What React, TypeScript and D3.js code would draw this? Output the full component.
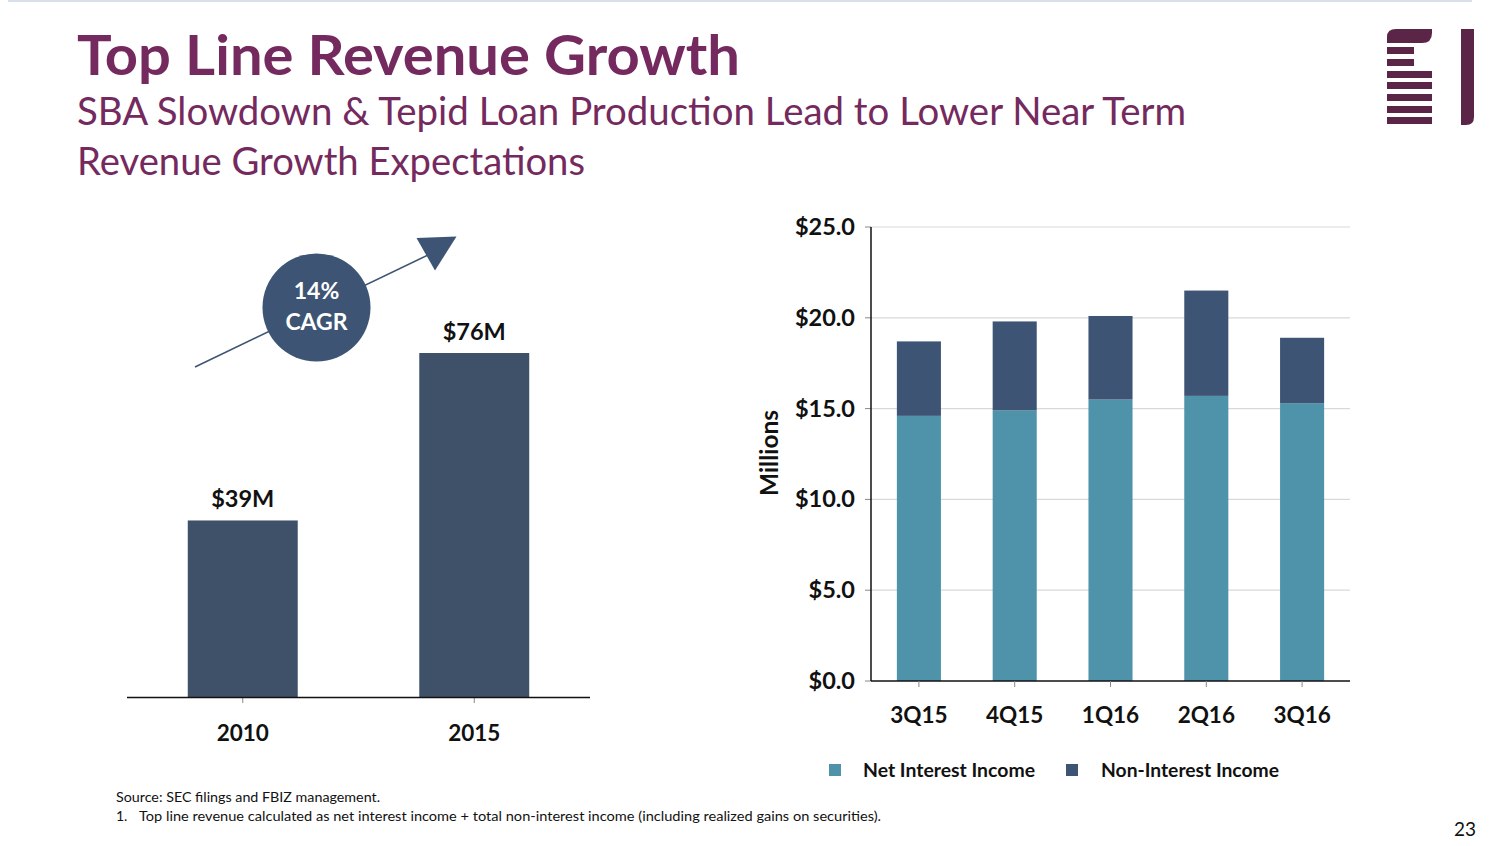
import React from "react";
import * as d3 from "d3";

const quarters = ["3Q15", "4Q15", "1Q16", "2Q16", "3Q16"];
const netInterestIncome = [14.6, 14.9, 15.5, 15.7, 15.3];
const nonInterestIncome = [4.1, 4.9, 4.6, 5.8, 3.6];
const yTicks = [0, 5, 10, 15, 20, 25];

const years = ["2010", "2015"];
const revenue = [39, 76];
const revenueLabels = ["$39M", "$76M"];

const seriesNames = ["Net Interest Income", "Non-Interest Income"];

const PURPLE = "#742a5e";
const LOGO = "#5a2547";
const TEAL = "#4f93ab";
const NAVY = "#3e5474";
const LEFTBAR = "#3f5168";
const FONT = "Lato, 'Open Sans', sans-serif";

export default function App() {
  const W = 1504, H = 846;

  // right chart
  const x = d3.scaleBand<string>().domain(quarters).range([871, 1350]).paddingInner(0.54).paddingOuter(0.27);
  const y = d3.scaleLinear().domain([0, 25]).range([681, 227]);
  const stackData = quarters.map((q, i) => ({ q, nii: netInterestIncome[i], non: nonInterestIncome[i] }));
  const stack = d3.stack<any>().keys(["nii", "non"])(stackData);
  const colors = [TEAL, NAVY];

  // left chart
  const lx = d3.scaleBand<string>().domain(years).range([127, 590]).paddingInner(0.525).paddingOuter(0.2625);
  const ly = d3.scaleLinear().domain([0, 80]).range([697, 697 - 80 * (344 / 76)]);

  const fmt = (v: number) => "$" + d3.format(".1f")(v);

  return (
    <svg width={W} height={H} style={{ position: "absolute", left: 0, top: 0, background: "#fff" }} fontFamily={FONT}>
      <rect x={0} y={0} width={W} height={H} fill="#fff" />
      <line x1={8} x2={1472} y1={1} y2={1} stroke="#cdd5e1" strokeWidth={1.5} />

      {/* titles */}
      <text x={77} y={75} fontSize={56} fontWeight={700} fill={PURPLE} textLength={663} lengthAdjust="spacingAndGlyphs">Top Line Revenue Growth</text>
      <text x={77} y={125} fontSize={38} fill={PURPLE} textLength={1109} lengthAdjust="spacingAndGlyphs">SBA Slowdown &amp; Tepid Loan Production Lead to Lower Near Term</text>
      <text x={77} y={175} fontSize={38} fill={PURPLE} textLength={508} lengthAdjust="spacingAndGlyphs">Revenue Growth Expectations</text>

      {/* logo */}
      <g fill={LOGO}>
        <path d="M1387,43 L1387,37 Q1387,29 1396,29 L1432,29 L1432,33 Q1432,43 1422,43 Z" />
        <rect x={1387} y={47} width={27} height={7} />
        <rect x={1387} y={59} width={27} height={7} />
        <rect x={1387} y={71} width={45} height={7} />
        <rect x={1387} y={82} width={45} height={7} />
        <rect x={1387} y={94} width={45} height={7} />
        <rect x={1387} y={106} width={45} height={7} />
        <rect x={1387} y={117} width={45} height={7} />
        <path d="M1461,29 L1474,29 L1474,117 Q1474,125 1466,125 L1461,125 Z" />
      </g>

      {/* left chart */}
      {years.map((yr, i) => (
        <g key={yr}>
          <rect x={lx(yr)!} y={ly(revenue[i])} width={lx.bandwidth()} height={ly(0) - ly(revenue[i])} fill={LEFTBAR} />
          <text x={lx(yr)! + lx.bandwidth() / 2} y={ly(revenue[i]) - 13} textAnchor="middle" fontSize={23.5} fontWeight={700} fill="#111">{revenueLabels[i]}</text>
          <line x1={lx(yr)! + lx.bandwidth() / 2} x2={lx(yr)! + lx.bandwidth() / 2} y1={ly(0)} y2={ly(0) + 6} stroke="#888" strokeWidth={1} />
          <text x={lx(yr)! + lx.bandwidth() / 2} y={ly(0) + 44} textAnchor="middle" fontSize={22.5} fontWeight={700} fill="#111">{yr}</text>
        </g>
      ))}
      <line x1={127} x2={590} y1={ly(0) + 0.5} y2={ly(0) + 0.5} stroke="#111" strokeWidth={1.5} />

      {/* arrow + CAGR bubble */}
      <line x1={195} y1={367} x2={430} y2={254} stroke="#3e5474" strokeWidth={1.5} />
      <path d="M416.5,238 L456.5,236.5 L435,270.5 Z" fill="#3e5474" />
      <circle cx={316.5} cy={307.5} r={54} fill="#3e5474" />
      <text x={316.5} y={299} textAnchor="middle" fontSize={23} fontWeight={700} fill="#fff">14%</text>
      <text x={316.5} y={330} textAnchor="middle" fontSize={23} fontWeight={700} fill="#fff">CAGR</text>

      {/* right chart grid */}
      {yTicks.map((t) => (
        <g key={t}>
          {t > 0 && <line x1={871} x2={1350} y1={y(t)} y2={y(t)} stroke="#d9d9d9" strokeWidth={1.2} />}
          <line x1={865} x2={871} y1={y(t)} y2={y(t)} stroke="#888" strokeWidth={1} />
          <text x={855} y={y(t) + 8} textAnchor="end" fontSize={23.5} fontWeight={700} fill="#111">{fmt(t)}</text>
        </g>
      ))}

      {/* stacked bars */}
      {stack.map((s, si) => (
        <g key={si} fill={colors[si]}>
          {s.map((d: any) => (
            <rect key={d.data.q} x={x(d.data.q)!} y={y(d[1])} width={x.bandwidth()} height={y(d[0]) - y(d[1])} />
          ))}
        </g>
      ))}

      {/* axes */}
      <line x1={871} x2={871} y1={227} y2={681} stroke="#111" strokeWidth={1.5} />
      <line x1={871} x2={1350} y1={681} y2={681} stroke="#111" strokeWidth={1.5} />
      {quarters.map((q) => (
        <g key={q}>
          <line x1={x(q)! + x.bandwidth() / 2} x2={x(q)! + x.bandwidth() / 2} y1={681} y2={687} stroke="#888" strokeWidth={1} />
          <text x={x(q)! + x.bandwidth() / 2} y={723} textAnchor="middle" fontSize={22.5} fontWeight={700} fill="#111">{q}</text>
        </g>
      ))}
      <text transform="translate(778,453) rotate(-90)" textAnchor="middle" fontSize={24} fontWeight={700} fill="#111" textLength={86} lengthAdjust="spacingAndGlyphs">Millions</text>

      {/* legend */}
      <rect x={829} y={764} width={12} height={12} fill={TEAL} />
      <text x={863} y={777} fontSize={18.5} fontWeight={700} fill="#111" textLength={172} lengthAdjust="spacingAndGlyphs">{seriesNames[0]}</text>
      <rect x={1066} y={764} width={12} height={12} fill={NAVY} />
      <text x={1101} y={777} fontSize={18.5} fontWeight={700} fill="#111" textLength={178} lengthAdjust="spacingAndGlyphs">{seriesNames[1]}</text>

      {/* footnotes */}
      <text x={116} y={802} fontSize={14} fill="#111" textLength={264} lengthAdjust="spacingAndGlyphs">Source: SEC filings and FBIZ management.</text>
      <text x={116} y={821} fontSize={14} fill="#111">1.</text>
      <text x={139} y={821} fontSize={14} fill="#111" textLength={742} lengthAdjust="spacingAndGlyphs">Top line revenue calculated as net interest income + total non-interest income (including realized gains on securities).</text>
      <text x={1476} y={836} textAnchor="end" fontSize={19} fill="#111">23</text>
    </svg>
  );
}
